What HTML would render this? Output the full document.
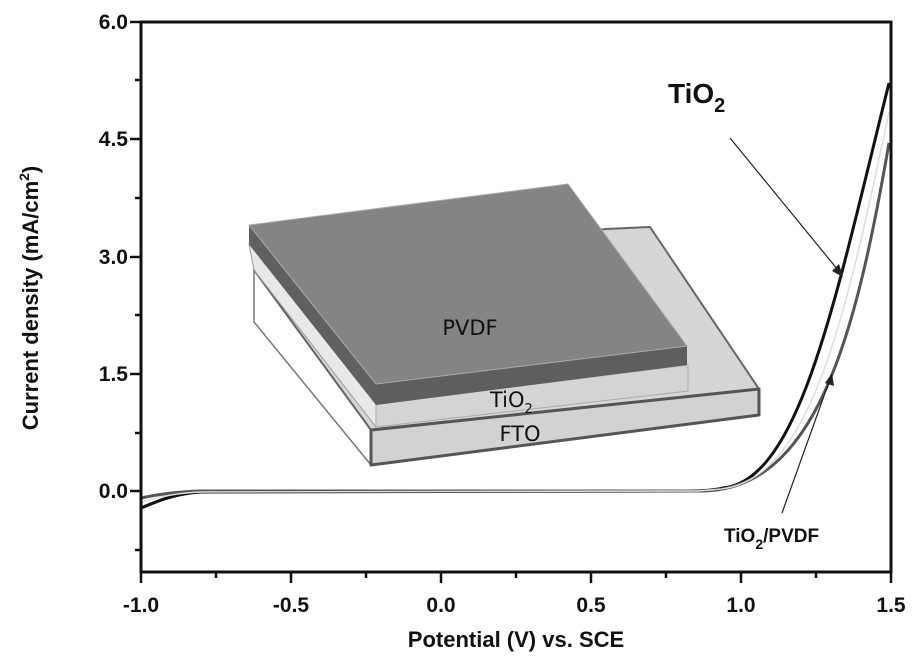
<!DOCTYPE html>
<html><head><style>
body{margin:0;background:#fff;}
svg{display:block;font-family:"Liberation Sans",Arial,sans-serif;}
</style></head><body>
<svg width="918" height="666" viewBox="0 0 918 666">
<!-- inset -->
<g stroke-linejoin="round">
<polygon points="254,270 371,430 371,465 254,322" fill="#fff" stroke="#777" stroke-width="1.5"/>
<polygon points="254,270 606,229 650,227 759,389 371,430" fill="#d6d6d6" stroke="#666" stroke-width="2"/>
<polygon points="371,430 759,389 759,415 371,465" fill="#d2d2d2" stroke="#555" stroke-width="3"/>
<polygon points="249,244 376,404 376,427 254,270" fill="#e8e8e8" stroke="#999" stroke-width="1"/>
<polygon points="376,404 688,365 688,391 376,427" fill="#d4d4d4" stroke="#aaa" stroke-width="1"/>
<polygon points="249,225 376,384 376,405 249,244" fill="#606060"/>
<polygon points="376,384 687,346 687,365 376,405" fill="#5e5e5e"/>
<polygon points="249,225 568,184 687,346 376,384" fill="#848484" stroke="#aaa" stroke-width="1"/>
</g>
<text x="470" y="335" font-size="21" text-anchor="middle" fill="#111" font-family="'DejaVu Sans',sans-serif">PVDF</text>
<text x="490" y="407" font-size="21" fill="#111" font-family="'DejaVu Sans',sans-serif">TiO<tspan font-size="13" dy="6">2</tspan></text>
<text x="520" y="441" font-size="21" text-anchor="middle" fill="#111" font-family="'DejaVu Sans',sans-serif">FTO</text>
<!-- curves -->
<path d="M141,508 C160,500 175,494 200,492 L690,491 C705,491 715,490 723,488 C800,480 835,300 889,83" fill="none" stroke="#111" stroke-width="3"/>
<path d="M141,498 C160,494 175,492 200,491 L700,491 C815,492 855,340 889,143" fill="none" stroke="#555" stroke-width="3"/>
<path d="M141,502 C160,497 175,493 200,492 L695,491 C700,491 710,490 715,489.5 C810,486 845,320 889,112" fill="none" stroke="#ddd" stroke-width="1.5"/>
<!-- arrows -->
<line x1="730" y1="138" x2="838" y2="270" stroke="#222" stroke-width="1.2"/>
<polygon points="843,277 832,271 839,264" fill="#222"/>
<line x1="782" y1="513" x2="829" y2="382" stroke="#222" stroke-width="1.2"/>
<polygon points="832,373 834,386 825,383" fill="#222"/>
<text x="668" y="103" font-size="28" font-weight="bold" fill="#111">TiO<tspan font-size="20" dy="9">2</tspan></text>
<text x="724" y="542" font-size="19" font-weight="bold" fill="#111">TiO<tspan font-size="14" dy="7">2</tspan><tspan dy="-7">/PVDF</tspan></text>
<!-- axes -->
<rect x="141" y="22" width="750" height="550" fill="none" stroke="#111" stroke-width="3"/>
<g stroke="#111" stroke-width="2.5">
<line x1="141" y1="572" x2="141" y2="583"/><line x1="291" y1="572" x2="291" y2="583"/><line x1="441" y1="572" x2="441" y2="583"/><line x1="591" y1="572" x2="591" y2="583"/><line x1="741" y1="572" x2="741" y2="583"/><line x1="891" y1="572" x2="891" y2="583"/>
<line x1="216" y1="572" x2="216" y2="578"/><line x1="366" y1="572" x2="366" y2="578"/><line x1="516" y1="572" x2="516" y2="578"/><line x1="666" y1="572" x2="666" y2="578"/><line x1="816" y1="572" x2="816" y2="578"/>
<line x1="130" y1="22" x2="141" y2="22"/><line x1="130" y1="139" x2="141" y2="139"/><line x1="130" y1="257" x2="141" y2="257"/><line x1="130" y1="374" x2="141" y2="374"/><line x1="130" y1="491" x2="141" y2="491"/>
<line x1="135" y1="80" x2="141" y2="80"/><line x1="135" y1="198" x2="141" y2="198"/><line x1="135" y1="315" x2="141" y2="315"/><line x1="135" y1="433" x2="141" y2="433"/><line x1="135" y1="550" x2="141" y2="550"/>
</g>
<g font-size="21" font-weight="bold" fill="#111" text-anchor="end">
<text x="128" y="29">6.0</text><text x="128" y="146">4.5</text><text x="128" y="264">3.0</text><text x="128" y="381">1.5</text><text x="128" y="498">0.0</text>
</g>
<g font-size="21" font-weight="bold" fill="#111" text-anchor="middle">
<text x="141" y="612">-1.0</text><text x="291" y="612">-0.5</text><text x="441" y="612">0.0</text><text x="591" y="612">0.5</text><text x="741" y="612">1.0</text><text x="891" y="612">1.5</text>
</g>
<text x="516" y="647" font-size="22" font-weight="bold" text-anchor="middle" fill="#111">Potential (V) vs. SCE</text>
<text transform="translate(38,298) rotate(-90)" font-size="22" font-weight="bold" text-anchor="middle" fill="#111">Current density (mA/cm<tspan font-size="14" dy="-9">2</tspan><tspan dy="9">)</tspan></text>
</svg>
</body></html>
